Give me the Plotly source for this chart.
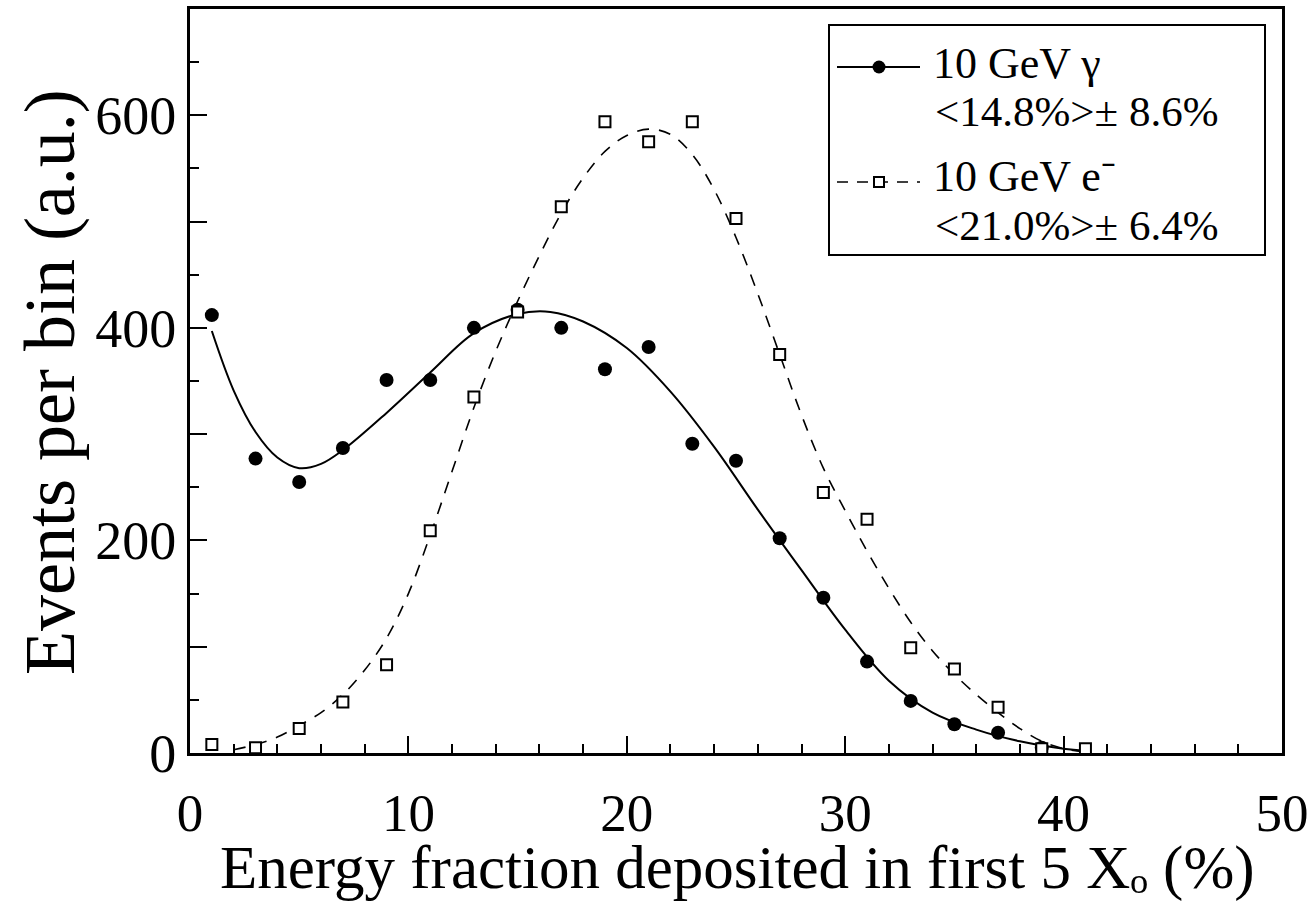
import plotly.graph_objects as go

# Measured bins: energy fraction (%) and events per bin
gamma_x = [1, 3, 5, 7, 9, 11, 13, 15, 17, 19, 21, 23, 25, 27, 29, 31, 33, 35, 37, 39]
gamma_y = [412, 277, 255, 287, 351, 351, 400, 417, 400, 361, 382, 291, 275, 202, 146, 86, 49, 27, 19, 5]

elec_x = [1, 3, 5, 7, 9, 11, 13, 15, 17, 19, 21, 23, 25, 27, 29, 31, 33, 35, 37, 39, 41]
elec_y = [8, 5, 23, 48, 83, 209, 335, 415, 514, 594, 575, 594, 503, 375, 245, 220, 99, 79, 43, 4, 4]

# Fitted curves, sampled along x
gamma_fit_x = [1, 2, 3, 4, 5, 6, 7, 9, 11, 13, 15, 16.5, 18, 20, 22, 24, 26, 28, 30, 32, 34, 36, 38, 40, 41]
gamma_fit_y = [397, 341, 302, 278, 268, 272, 285, 320, 358, 395, 413, 415, 406, 381, 340, 288,
               229, 172, 116, 68, 38, 22, 11, 4, 2]

elec_fit_x = list(range(2, 42))
elec_fit_y = [3, 8, 15, 26, 38, 55, 78, 108, 150, 205, 265, 325, 378, 425, 468, 508, 541,
              566, 581, 587, 582, 563, 530, 485, 432, 375, 318, 268, 228, 190, 155, 123, 96,
              74, 55, 38, 23, 11, 4, 1]

x_ticks = [0, 10, 20, 30, 40, 50]
y_ticks = [0, 100, 200, 300, 400, 500, 600, 700]
y_labels = ["0", " ", "200", " ", "400", " ", "600", " "]

x_title = "Energy fraction deposited in first 5 Xₒ (%)"
y_title = "Events per bin (a.u.)"
legend_titles = ["10 GeV γ", "10 GeV e⁻"]
legend_stats = ["&lt;14.8%&gt;± 8.6%", "&lt;21.0%&gt;± 6.4%"]

FONT = "Liberation Serif"
W, H = 1312, 903
ML, MR, MT, MB = 190, 30, 9, 150
PW, PH = W - ML - MR, H - MT - MB


def px(x):
    return (x - ML) / PW


def py(y):
    return (H - MB - y) / PH


fig = go.Figure()

fig.add_trace(go.Scatter(x=gamma_fit_x, y=gamma_fit_y, mode="lines",
                         line=dict(color="black", width=2, shape="spline", smoothing=1),
                         hoverinfo="skip"))
fig.add_trace(go.Scatter(x=elec_fit_x, y=elec_fit_y, mode="lines",
                         line=dict(color="black", width=1.6, dash="12px,10px",
                                   shape="spline", smoothing=1),
                         hoverinfo="skip"))
fig.add_trace(go.Scatter(x=gamma_x, y=gamma_y, mode="markers", name="10 GeV γ",
                         marker=dict(symbol="circle", size=14, color="black",
                                     line=dict(width=0))))
fig.add_trace(go.Scatter(x=elec_x, y=elec_y, mode="markers", name="10 GeV e-",
                         marker=dict(symbol="square", size=11, color="white",
                                     line=dict(color="black", width=2))))

shapes = [
    # legend frame
    dict(type="rect", xref="paper", yref="paper", x0=px(829), x1=px(1265), y0=py(255), y1=py(25),
         line=dict(color="black", width=2), fillcolor="white", layer="above"),
    # solid sample
    dict(type="line", xref="paper", yref="paper", x0=px(837), x1=px(920), y0=py(67), y1=py(67),
         line=dict(color="black", width=2)),
    dict(type="circle", xref="paper", yref="paper", x0=px(872.5), x1=px(885.5),
         y0=py(73.5), y1=py(60.5), fillcolor="black", line=dict(color="black", width=0)),
    # dashed sample
    dict(type="line", xref="paper", yref="paper", x0=px(837), x1=px(920), y0=py(182), y1=py(182),
         line=dict(color="black", width=1.6, dash="11px,9px")),
    dict(type="rect", xref="paper", yref="paper", x0=px(874), x1=px(884),
         y0=py(187), y1=py(177), fillcolor="white", line=dict(color="black", width=2)),
]

annotations = [
    dict(text=legend_titles[0], x=px(931), y=py(63), xanchor="left", yanchor="middle",
         font=dict(size=44)),
    dict(text=legend_stats[0], x=px(933), y=py(112), xanchor="left", yanchor="middle",
         font=dict(size=43)),
    dict(text=legend_titles[1], x=px(931), y=py(176), xanchor="left", yanchor="middle",
         font=dict(size=44)),
    dict(text=legend_stats[1], x=px(933), y=py(226), xanchor="left", yanchor="middle",
         font=dict(size=43)),
    # axis titles
    dict(text=x_title, x=px(737), y=py(868), xanchor="center", yanchor="middle",
         font=dict(size=61)),
    dict(text=y_title, x=px(50), y=py(382), xanchor="center", yanchor="middle",
         textangle=-90, font=dict(size=72)),
]
for a in annotations:
    a.update(xref="paper", yref="paper", showarrow=False)
    a["font"].update(family=FONT, color="black")

fig.update_layout(
    width=W, height=H,
    margin=dict(l=ML, r=MR, t=MT, b=MB, autoexpand=False),
    paper_bgcolor="white", plot_bgcolor="white",
    showlegend=False,
    font=dict(family=FONT, color="black"),
    shapes=shapes,
    annotations=annotations,
    xaxis=dict(
        range=[0, 50], tickvals=x_ticks, ticktext=[str(v) for v in x_ticks],
        ticks="inside", ticklen=17, tickwidth=2, tickcolor="black",
        minor=dict(dtick=2, ticks="inside", ticklen=9, tickwidth=2, tickcolor="black"),
        showline=True, linewidth=3, linecolor="black", mirror=True,
        showgrid=False, zeroline=False, automargin=False,
        ticklabelstandoff=11,
        tickfont=dict(size=53, family=FONT),
    ),
    yaxis=dict(
        range=[0, 700], tickvals=y_ticks, ticktext=y_labels,
        ticks="inside", ticklen=17, tickwidth=2, tickcolor="black",
        minor=dict(dtick=50, ticks="inside", ticklen=9, tickwidth=2, tickcolor="black"),
        showline=True, linewidth=3, linecolor="black", mirror=True,
        showgrid=False, zeroline=False, automargin=False,
        tickfont=dict(size=54, family=FONT),
    ),
)

fig.write_html("out.html")
